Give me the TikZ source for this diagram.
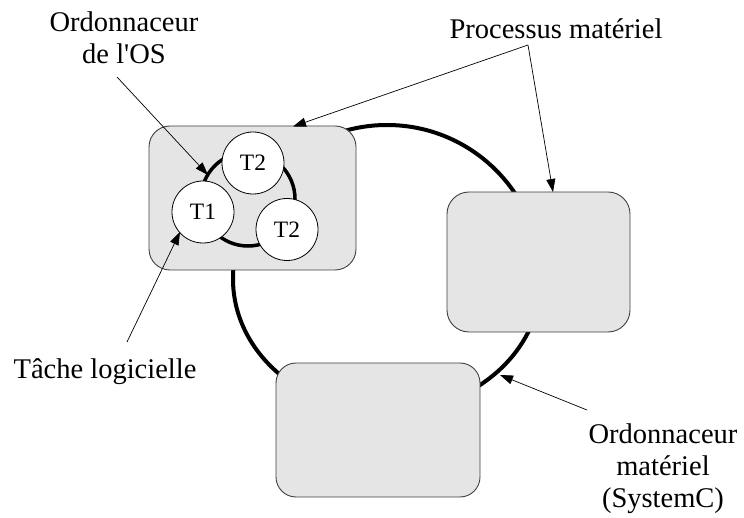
\documentclass[tikz,border=0pt]{standalone}
\usepackage{fontspec}
\setmainfont{Liberation Serif}
\usetikzlibrary{arrows.meta}
\tikzset{
  procbox/.style={draw=black!75, line width=0.9pt, fill=gray!20},
  task/.style={circle, draw=black, line width=0.8pt, fill=white, minimum size=62pt, inner sep=0pt, font=\fontsize{23.5}{26}\selectfont},
  sched/.style={line width=4pt, black},
  label/.style={inner sep=0pt, align=center, font=\fontsize{28.5}{32}\selectfont},
  pointer/.style={line width=0.7pt, -{Triangle[length=13pt,width=9pt]}, shorten >=0pt}
}
\begin{document}
\begin{tikzpicture}[x=1pt,y=-1pt]
\useasboundingbox (0,0) rectangle (744,518);
% hardware scheduler ring
\coordinate (hwc) at (387,279);
\draw[sched] (233,279) arc[start angle=180, end angle=0, radius=154pt]
  arc[start angle=0, end angle=-180, x radius=154pt, y radius=133pt] -- cycle;
% hardware processes
\draw[procbox, rounded corners=21pt] (149,126) rectangle (356,270);
\draw[procbox, rounded corners=22pt] (447,192) rectangle (630,332);
\draw[procbox, rounded corners=20pt] (276,363) rectangle (480,497);
\coordinate (p1top) at (293,126.5);
\coordinate (p2top) at (553,192);
% OS scheduler ring
\coordinate (osc) at (248,199);
\draw[line width=3.5pt] (osc) circle[radius=47pt];
% tasks
\node[task] (t2a) at (253,163) {T2};
\node[task] (t1) at (203,212) {T1};
\node[task] (t2b) at (287,229.5) {T2};
% labels
\node[label, anchor=north] (oslbl) at (124,11.5) {Ordonnaceur\\de l\textquotesingle OS};
\node[label, anchor=base] (proclbl) at (556,39) {Processus matériel};
\node[label, anchor=base] (tasklbl) at (105,378) {Tâche logicielle};
\node[label, anchor=north] (hwlbl) at (663,423.5) {Ordonnaceur\\matériel\\(SystemC)};
% pointer ends
\coordinate (osA) at (117,77);
\coordinate (osT) at (208,175);
\coordinate (prA) at (528,45);
\coordinate (taA) at (127,342);
\coordinate (taT) at (180,232);
\coordinate (hwA) at (587,410);
\coordinate (hwT) at (500,375);
\draw[pointer] (osA) -- (osT);
\draw[pointer] (prA) -- (p1top);
\draw[pointer] (prA) -- (p2top);
\draw[pointer] (taA) -- (taT);
\draw[pointer] (hwA) -- (hwT);
\end{tikzpicture}
\end{document}
